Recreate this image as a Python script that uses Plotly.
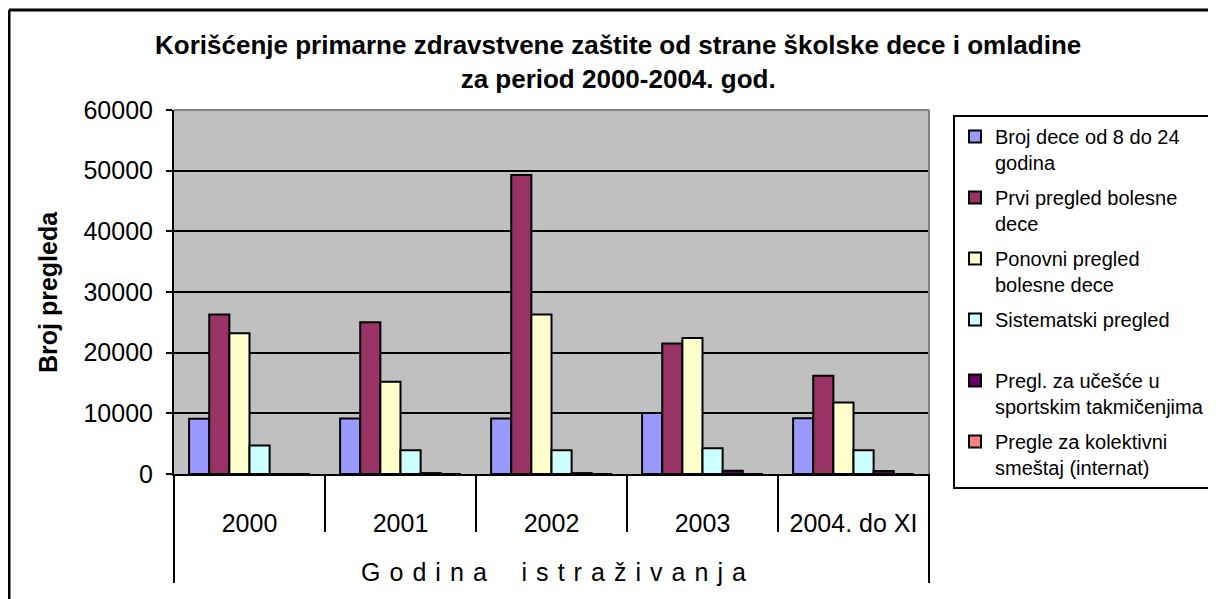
import plotly.graph_objects as go

categories = ["2000", "2001", "2002", "2003", "2004. do XI"]
series_names = [
    "Broj dece od 8 do 24<br>godina",
    "Prvi pregled bolesne<br>dece",
    "Ponovni pregled<br>bolesne dece",
    "Sistematski pregled<br> ",
    "Pregl. za učešće u<br>sportskim takmičenjima",
    "Pregle za kolektivni<br>smeštaj (internat)",
]
broj_dece = [9100, 9150, 9150, 10050, 9200]
prvi_pregled = [26300, 25000, 49300, 21500, 16200]
ponovni_pregled = [23200, 15200, 26300, 22400, 11800]
sistematski = [4700, 3900, 3900, 4250, 3900]
sportski = [0, 150, 150, 550, 500]
internat = [0, 0, 0, 0, 0]
y_ticks = [0, 10000, 20000, 30000, 40000, 50000, 60000]

values = [broj_dece, prvi_pregled, ponovni_pregled, sistematski, sportski, internat]
colors = ["#9999FF", "#993366", "#FFFFCC", "#CCFFFF", "#660066", "#FF8080"]

FONT = "Liberation Sans, Arial, sans-serif"

fig = go.Figure()
for i, (name, vals, col) in enumerate(zip(series_names, values, colors)):
    fig.add_trace(go.Bar(
        x=categories, y=vals, name=name, legendgroup=f"g{i}",
        marker=dict(color=col, line=dict(color="black", width=2)),
    ))

# page has an 8px body margin; figure coordinates = page coordinates - 8
OFF = 8
W, H = 1216 - OFF, 599 - OFF
L, T = 174 - OFF, 110 - OFF
R = W - (929 - OFF)
B = H - (474 - OFF)
pw, ph = W - L - R, H - T - B

def px_x(x):
    return (x - OFF - L) / pw

def px_y(y):
    return (H - B - (y - OFF)) / ph

fig.update_layout(
    width=W, height=H,
    margin=dict(l=L, r=R, t=T, b=B, autoexpand=False),
    paper_bgcolor="white",
    plot_bgcolor="#C0C0C0",
    barmode="group", bargap=0.2, bargroupgap=0,
    font=dict(family=FONT, color="black"),
    legend=dict(
        x=px_x(953), y=px_y(115), xanchor="left", yanchor="top",
        bgcolor="white", bordercolor="black", borderwidth=2,
        font=dict(family=FONT, size=20, color="black"),
        tracegroupgap=6, valign="top", traceorder="grouped",
        maxheight=560,
    ),
    xaxis=dict(
        type="category", showgrid=False, tickson="boundaries",
        ticks="outside", ticklen=56, tickwidth=2, tickcolor="black",
        ticklabelstandoff=26,
        tickfont=dict(family=FONT, size=25, color="black"),
        showline=True, linecolor="black", linewidth=2,
    ),
    yaxis=dict(
        range=[0, 60000], tickvals=y_ticks, ticktext=[str(v) for v in y_ticks],
        showgrid=True, gridcolor="black", gridwidth=1.5,
        ticks="outside", ticklen=6, tickwidth=2, tickcolor="black",
        ticklabelstandoff=8,
        tickfont=dict(family=FONT, size=25, color="black"),
        showline=True, linecolor="black", linewidth=2,
        zeroline=False,
    ),
    showlegend=True,
)

# chart title
fig.add_annotation(
    text="<b>Korišćenje primarne zdravstvene zaštite od strane školske dece i omladine<br>za period 2000-2004. god.</b>",
    xref="paper", yref="paper", x=px_x(618), y=px_y(62), xanchor="center", yanchor="middle",
    showarrow=False, font=dict(family=FONT, size=26, color="black"),
)
# y-axis title
fig.add_annotation(
    text="<b>Broj pregleda</b>", textangle=-90,
    xref="paper", yref="paper", x=px_x(48), y=px_y(292), xanchor="center", yanchor="middle",
    showarrow=False, font=dict(family=FONT, size=25, color="black"),
)
# x-axis title (letter-spaced)
sep = " \u200a"
word_gap = "     "
x_title = word_gap.join(sep.join(list(w)) for w in ["Godina", "istraživanja"])
fig.add_annotation(
    text=x_title,
    xref="paper", yref="paper", x=px_x(553), y=px_y(572), xanchor="center", yanchor="middle",
    showarrow=False, font=dict(family=FONT, size=25, color="black"),
)

shapes = []
# plot area gray border top/right
shapes.append(dict(type="line", xref="paper", yref="paper", x0=0, x1=1, y0=1, y1=1,
                   line=dict(color="#808080", width=2)))
shapes.append(dict(type="line", xref="paper", yref="paper", x0=1, x1=1, y0=0, y1=1,
                   line=dict(color="#808080", width=2)))
# long outer category lines
shapes.append(dict(type="line", xref="paper", yref="paper", x0=0, x1=0, y0=0, y1=px_y(583),
                   line=dict(color="black", width=2)))
shapes.append(dict(type="line", xref="paper", yref="paper", x0=1, x1=1, y0=0, y1=px_y(583),
                   line=dict(color="black", width=2)))
# outer chart frame (left and top)
shapes.append(dict(type="line", xref="paper", yref="paper", x0=px_x(9), x1=px_x(9),
                   y0=px_y(10), y1=px_y(610), line=dict(color="black", width=3)))
shapes.append(dict(type="line", xref="paper", yref="paper", x0=px_x(9), x1=px_x(1230),
                   y0=px_y(10), y1=px_y(10), line=dict(color="black", width=3)))
fig.update_layout(shapes=shapes)

fig.write_html("out.html")
